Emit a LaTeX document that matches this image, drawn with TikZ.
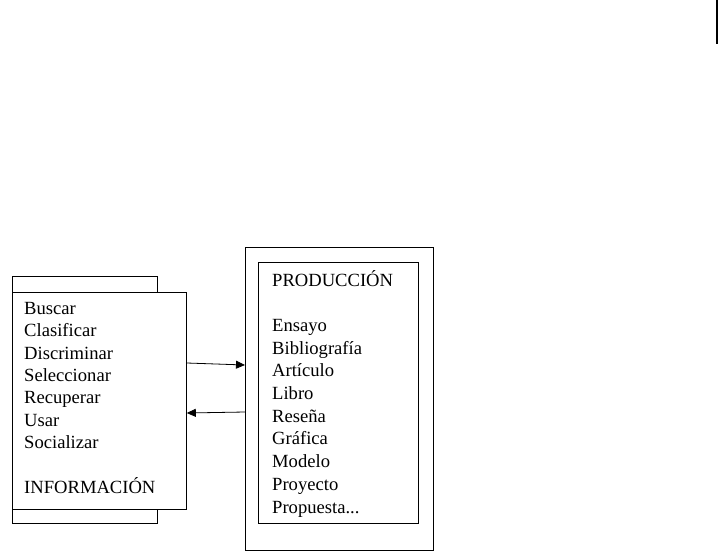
\documentclass[tikz,border=0pt]{standalone}
\usepackage{fontspec}
\setmainfont{Liberation Serif}
\usepackage{tikz}
\usetikzlibrary{arrows.meta, positioning}

\begin{document}
\begin{tikzpicture}[
    x=1pt, y=-1pt,
    frame/.style={draw, line width=0.8pt, inner sep=0pt, anchor=north west},
    entry/.style={inner sep=0pt, anchor=base west, align=left, font=\fontsize{18.6}{22.3}\selectfont},
    arrow/.style={-{Triangle[length=9pt, width=8pt]}, line width=0.8pt}
]
    \useasboundingbox (0,0) rectangle (719,559);

    % Left boxes
    \node[frame, minimum width=145pt, minimum height=247pt] (infoback) at (12,276) {};
    \node[frame, fill=white, minimum width=174pt, minimum height=217pt] (info) at (12,292) {};
    \node[entry] (infolist) at (24,493) {Buscar\\Clasificar\\Discriminar\\Seleccionar\\Recuperar\\Usar\\Socializar\\[22.3pt]INFORMACIÓN};

    % Right boxes
    \node[frame, minimum width=188pt, minimum height=303pt] (prod) at (245,247) {};
    \node[frame, minimum width=160pt, minimum height=261pt] (prodin) at (258,262) {};
    \node[entry, font=\fontsize{18.6}{22.7}\selectfont] (prodlist) at (272,513) {PRODUCCIÓN\\[22.7pt]Ensayo\\Bibliografía\\Artículo\\Libro\\Reseña\\Gráfica\\Modelo\\Proyecto\\Propuesta...};

    % Arrows
    \draw[arrow] (info.east |- 0,363) -- (prod.west |- 0,365);
    \draw[arrow] (prod.west |- 0,412) -- (info.east |- 0,413);

    % Mark at top right
    \draw[line width=2pt] (717,0) -- (717,44);
\end{tikzpicture}
\end{document}
